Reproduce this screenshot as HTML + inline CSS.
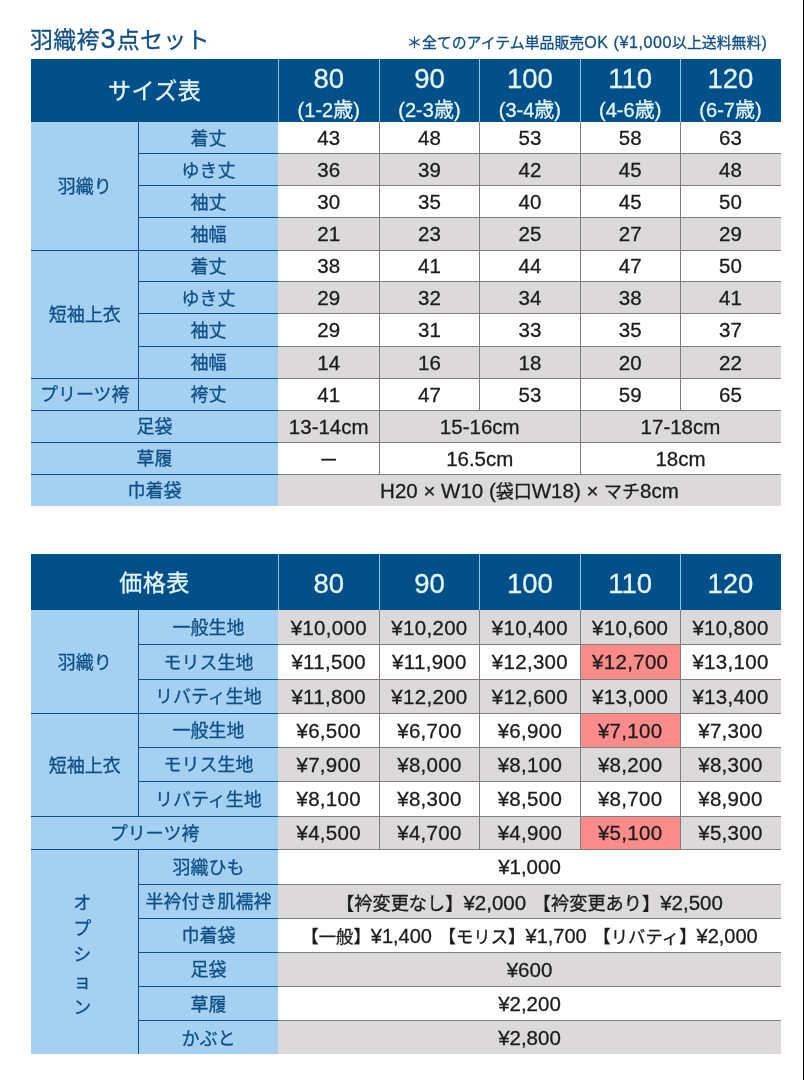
<!DOCTYPE html>
<html lang="ja"><head><meta charset="utf-8"><title>羽織袴3点セット サイズ表・価格表</title>
<style>
html,body{margin:0;padding:0;background:#fff}
body{width:804px;height:1080px;position:relative;overflow:hidden;font-family:"Liberation Sans","Noto Sans CJK JP",sans-serif;color:#1c1c1c}
.c{position:absolute;display:flex;align-items:center;justify-content:center;white-space:nowrap;box-sizing:border-box}
.l{position:absolute}
.title{position:absolute;left:30px;top:22px;font-size:23px;line-height:36px;color:#0f4f85;letter-spacing:0.2px;white-space:nowrap}
.note b{font-weight:normal;font-size:16px;letter-spacing:0.6px}
.title b{font-weight:normal;font-size:27px;line-height:20px;margin:0 1px}
.note{position:absolute;left:407px;top:30px;font-size:14.9px;line-height:26px;color:#0f4f85;white-space:nowrap}
.edge{position:absolute;left:803px;top:0;width:1px;height:1080px;background:#000}
.hd{color:#e4f6ff;-webkit-text-stroke:0.3px #e4f6ff}
.lb,.title,.note{-webkit-text-stroke:0.3px #0f4f85}
.d{-webkit-text-stroke:0.3px #1c1c1c}
.ht{font-size:23px;letter-spacing:0.5px;padding-bottom:2px}
.h2{flex-direction:column}
.h2 .n{font-size:27.5px;line-height:30px;position:relative;top:3px}
.h2 .s{font-size:20px;line-height:28px;position:relative;top:4.5px}
.p .n{top:2px}
.lb{color:#0f4f85;font-size:18px;padding-bottom:2px}
.d{font-size:20.5px;padding-top:1px}
.d i{font-style:normal;font-size:18px}
.o{word-spacing:1px}
.o1 i{font-size:18.2px}
.o2{font-size:20px}
.o2 i{font-size:17.4px}
.k{word-spacing:0px}
.pr{letter-spacing:0.3px}
.vt{flex-direction:column}
.vt{padding:7px 5px 0 0}
.vt span{display:block;line-height:26.3px}
</style></head><body>
<div class="title">羽織袴<b>3</b>点セット</div>
<div class="note">＊全てのアイテム単品販売<b>OK (¥1,000</b>以上送料無料<b>)</b></div>
<div class="c hd ht" style="left:31px;top:59px;width:247.2px;height:62.6px;background:#02508a;">サイズ表</div>
<div class="c hd h2" style="left:278.2px;top:59px;width:101.1px;height:62.6px;background:#02508a;"><span class="n">80</span><span class="s">(1-2歳)</span></div>
<div class="c hd h2" style="left:379.3px;top:59px;width:100.3px;height:62.6px;background:#02508a;"><span class="n">90</span><span class="s">(2-3歳)</span></div>
<div class="c hd h2" style="left:479.6px;top:59px;width:100.6px;height:62.6px;background:#02508a;"><span class="n">100</span><span class="s">(3-4歳)</span></div>
<div class="c hd h2" style="left:580.2px;top:59px;width:100px;height:62.6px;background:#02508a;"><span class="n">110</span><span class="s">(4-6歳)</span></div>
<div class="c hd h2" style="left:680.2px;top:59px;width:100.6px;height:62.6px;background:#02508a;"><span class="n">120</span><span class="s">(6-7歳)</span></div>
<div class="c lb" style="left:31px;top:121.6px;width:107.6px;height:128.4px;background:#a4d1f2;">羽織り</div>
<div class="c lb" style="left:31px;top:250px;width:107.6px;height:128px;background:#a4d1f2;">短袖上衣</div>
<div class="c lb" style="left:31px;top:378px;width:107.6px;height:32.4px;background:#a4d1f2;">プリーツ袴</div>
<div class="c lb" style="left:138.6px;top:121.6px;width:139.6px;height:32.1px;background:#a4d1f2;">着丈</div>
<div class="c d" style="left:278.2px;top:121.6px;width:101.1px;height:32.1px;background:#fff;"><span>43</span></div>
<div class="c d" style="left:379.3px;top:121.6px;width:100.3px;height:32.1px;background:#fff;"><span>48</span></div>
<div class="c d" style="left:479.6px;top:121.6px;width:100.6px;height:32.1px;background:#fff;"><span>53</span></div>
<div class="c d" style="left:580.2px;top:121.6px;width:100px;height:32.1px;background:#fff;"><span>58</span></div>
<div class="c d" style="left:680.2px;top:121.6px;width:100.6px;height:32.1px;background:#fff;"><span>63</span></div>
<div class="c lb" style="left:138.6px;top:153.7px;width:139.6px;height:31.9px;background:#a4d1f2;">ゆき丈</div>
<div class="c d" style="left:278.2px;top:153.7px;width:101.1px;height:31.9px;background:#dbd9da;"><span>36</span></div>
<div class="c d" style="left:379.3px;top:153.7px;width:100.3px;height:31.9px;background:#dbd9da;"><span>39</span></div>
<div class="c d" style="left:479.6px;top:153.7px;width:100.6px;height:31.9px;background:#dbd9da;"><span>42</span></div>
<div class="c d" style="left:580.2px;top:153.7px;width:100px;height:31.9px;background:#dbd9da;"><span>45</span></div>
<div class="c d" style="left:680.2px;top:153.7px;width:100.6px;height:31.9px;background:#dbd9da;"><span>48</span></div>
<div class="c lb" style="left:138.6px;top:185.6px;width:139.6px;height:32.2px;background:#a4d1f2;">袖丈</div>
<div class="c d" style="left:278.2px;top:185.6px;width:101.1px;height:32.2px;background:#fff;"><span>30</span></div>
<div class="c d" style="left:379.3px;top:185.6px;width:100.3px;height:32.2px;background:#fff;"><span>35</span></div>
<div class="c d" style="left:479.6px;top:185.6px;width:100.6px;height:32.2px;background:#fff;"><span>40</span></div>
<div class="c d" style="left:580.2px;top:185.6px;width:100px;height:32.2px;background:#fff;"><span>45</span></div>
<div class="c d" style="left:680.2px;top:185.6px;width:100.6px;height:32.2px;background:#fff;"><span>50</span></div>
<div class="c lb" style="left:138.6px;top:217.8px;width:139.6px;height:32.2px;background:#a4d1f2;">袖幅</div>
<div class="c d" style="left:278.2px;top:217.8px;width:101.1px;height:32.2px;background:#dbd9da;"><span>21</span></div>
<div class="c d" style="left:379.3px;top:217.8px;width:100.3px;height:32.2px;background:#dbd9da;"><span>23</span></div>
<div class="c d" style="left:479.6px;top:217.8px;width:100.6px;height:32.2px;background:#dbd9da;"><span>25</span></div>
<div class="c d" style="left:580.2px;top:217.8px;width:100px;height:32.2px;background:#dbd9da;"><span>27</span></div>
<div class="c d" style="left:680.2px;top:217.8px;width:100.6px;height:32.2px;background:#dbd9da;"><span>29</span></div>
<div class="c lb" style="left:138.6px;top:250px;width:139.6px;height:31.6px;background:#a4d1f2;">着丈</div>
<div class="c d" style="left:278.2px;top:250px;width:101.1px;height:31.6px;background:#fff;"><span>38</span></div>
<div class="c d" style="left:379.3px;top:250px;width:100.3px;height:31.6px;background:#fff;"><span>41</span></div>
<div class="c d" style="left:479.6px;top:250px;width:100.6px;height:31.6px;background:#fff;"><span>44</span></div>
<div class="c d" style="left:580.2px;top:250px;width:100px;height:31.6px;background:#fff;"><span>47</span></div>
<div class="c d" style="left:680.2px;top:250px;width:100.6px;height:31.6px;background:#fff;"><span>50</span></div>
<div class="c lb" style="left:138.6px;top:281.6px;width:139.6px;height:32px;background:#a4d1f2;">ゆき丈</div>
<div class="c d" style="left:278.2px;top:281.6px;width:101.1px;height:32px;background:#dbd9da;"><span>29</span></div>
<div class="c d" style="left:379.3px;top:281.6px;width:100.3px;height:32px;background:#dbd9da;"><span>32</span></div>
<div class="c d" style="left:479.6px;top:281.6px;width:100.6px;height:32px;background:#dbd9da;"><span>34</span></div>
<div class="c d" style="left:580.2px;top:281.6px;width:100px;height:32px;background:#dbd9da;"><span>38</span></div>
<div class="c d" style="left:680.2px;top:281.6px;width:100.6px;height:32px;background:#dbd9da;"><span>41</span></div>
<div class="c lb" style="left:138.6px;top:313.6px;width:139.6px;height:32.4px;background:#a4d1f2;">袖丈</div>
<div class="c d" style="left:278.2px;top:313.6px;width:101.1px;height:32.4px;background:#fff;"><span>29</span></div>
<div class="c d" style="left:379.3px;top:313.6px;width:100.3px;height:32.4px;background:#fff;"><span>31</span></div>
<div class="c d" style="left:479.6px;top:313.6px;width:100.6px;height:32.4px;background:#fff;"><span>33</span></div>
<div class="c d" style="left:580.2px;top:313.6px;width:100px;height:32.4px;background:#fff;"><span>35</span></div>
<div class="c d" style="left:680.2px;top:313.6px;width:100.6px;height:32.4px;background:#fff;"><span>37</span></div>
<div class="c lb" style="left:138.6px;top:346px;width:139.6px;height:32px;background:#a4d1f2;">袖幅</div>
<div class="c d" style="left:278.2px;top:346px;width:101.1px;height:32px;background:#dbd9da;"><span>14</span></div>
<div class="c d" style="left:379.3px;top:346px;width:100.3px;height:32px;background:#dbd9da;"><span>16</span></div>
<div class="c d" style="left:479.6px;top:346px;width:100.6px;height:32px;background:#dbd9da;"><span>18</span></div>
<div class="c d" style="left:580.2px;top:346px;width:100px;height:32px;background:#dbd9da;"><span>20</span></div>
<div class="c d" style="left:680.2px;top:346px;width:100.6px;height:32px;background:#dbd9da;"><span>22</span></div>
<div class="c lb" style="left:138.6px;top:378px;width:139.6px;height:32.4px;background:#a4d1f2;">袴丈</div>
<div class="c d" style="left:278.2px;top:378px;width:101.1px;height:32.4px;background:#fff;"><span>41</span></div>
<div class="c d" style="left:379.3px;top:378px;width:100.3px;height:32.4px;background:#fff;"><span>47</span></div>
<div class="c d" style="left:479.6px;top:378px;width:100.6px;height:32.4px;background:#fff;"><span>53</span></div>
<div class="c d" style="left:580.2px;top:378px;width:100px;height:32.4px;background:#fff;"><span>59</span></div>
<div class="c d" style="left:680.2px;top:378px;width:100.6px;height:32.4px;background:#fff;"><span>65</span></div>
<div class="c lb" style="left:31px;top:410.4px;width:247.2px;height:32px;background:#a4d1f2;">足袋</div>
<div class="c lb" style="left:31px;top:442.4px;width:247.2px;height:31.6px;background:#a4d1f2;">草履</div>
<div class="c lb" style="left:31px;top:474px;width:247.2px;height:31.6px;background:#a4d1f2;">巾着袋</div>
<div class="c d" style="left:278.2px;top:410.4px;width:101.1px;height:32px;background:#dbd9da;"><span>13-14cm</span></div>
<div class="c d" style="left:379.3px;top:410.4px;width:200.9px;height:32px;background:#dbd9da;"><span>15-16cm</span></div>
<div class="c d" style="left:580.2px;top:410.4px;width:200.6px;height:32px;background:#dbd9da;"><span>17-18cm</span></div>
<div class="c d" style="left:278.2px;top:442.4px;width:101.1px;height:31.6px;background:#fff;"><span><i>ー</i></span></div>
<div class="c d" style="left:379.3px;top:442.4px;width:200.9px;height:31.6px;background:#fff;"><span>16.5cm</span></div>
<div class="c d" style="left:580.2px;top:442.4px;width:200.6px;height:31.6px;background:#fff;"><span>18cm</span></div>
<div class="c d k" style="left:278.2px;top:474px;width:502.6px;height:31.6px;background:#dbd9da;"><span>H20 × W10 (<i>袋口</i>W18) × <i>マチ</i>8cm</span></div>
<div class="l" style="left:138.6px;top:153.2px;width:139.6px;height:1px;background:#0f4f85"></div>
<div class="l" style="left:138.6px;top:185.1px;width:139.6px;height:1px;background:#0f4f85"></div>
<div class="l" style="left:138.6px;top:217.3px;width:139.6px;height:1px;background:#0f4f85"></div>
<div class="l" style="left:31px;top:249.5px;width:247.2px;height:1px;background:#0f4f85"></div>
<div class="l" style="left:138.6px;top:281.1px;width:139.6px;height:1px;background:#0f4f85"></div>
<div class="l" style="left:138.6px;top:313.1px;width:139.6px;height:1px;background:#0f4f85"></div>
<div class="l" style="left:138.6px;top:345.5px;width:139.6px;height:1px;background:#0f4f85"></div>
<div class="l" style="left:31px;top:377.5px;width:247.2px;height:1px;background:#0f4f85"></div>
<div class="l" style="left:31px;top:409.9px;width:247.2px;height:1px;background:#0f4f85"></div>
<div class="l" style="left:31px;top:441.9px;width:247.2px;height:1px;background:#0f4f85"></div>
<div class="l" style="left:31px;top:473.5px;width:247.2px;height:1px;background:#0f4f85"></div>
<div class="l" style="left:138.1px;top:121.6px;width:1px;height:288.8px;background:#0f4f85"></div>
<div class="l" style="left:278.2px;top:153.2px;width:502.6px;height:1px;background:#7d7d7d"></div>
<div class="l" style="left:278.2px;top:185.1px;width:502.6px;height:1px;background:#7d7d7d"></div>
<div class="l" style="left:278.2px;top:217.3px;width:502.6px;height:1px;background:#7d7d7d"></div>
<div class="l" style="left:278.2px;top:249.5px;width:502.6px;height:1px;background:#7d7d7d"></div>
<div class="l" style="left:278.2px;top:281.1px;width:502.6px;height:1px;background:#7d7d7d"></div>
<div class="l" style="left:278.2px;top:313.1px;width:502.6px;height:1px;background:#7d7d7d"></div>
<div class="l" style="left:278.2px;top:345.5px;width:502.6px;height:1px;background:#7d7d7d"></div>
<div class="l" style="left:278.2px;top:377.5px;width:502.6px;height:1px;background:#7d7d7d"></div>
<div class="l" style="left:278.2px;top:409.9px;width:502.6px;height:1px;background:#7d7d7d"></div>
<div class="l" style="left:278.2px;top:441.9px;width:502.6px;height:1px;background:#7d7d7d"></div>
<div class="l" style="left:278.2px;top:473.5px;width:502.6px;height:1px;background:#7d7d7d"></div>
<div class="l" style="left:378.8px;top:121.6px;width:1px;height:288.8px;background:#7d7d7d"></div>
<div class="l" style="left:479.1px;top:121.6px;width:1px;height:288.8px;background:#7d7d7d"></div>
<div class="l" style="left:579.7px;top:121.6px;width:1px;height:288.8px;background:#7d7d7d"></div>
<div class="l" style="left:679.7px;top:121.6px;width:1px;height:288.8px;background:#7d7d7d"></div>
<div class="l" style="left:378.8px;top:410.4px;width:1px;height:63.6px;background:#7d7d7d"></div>
<div class="l" style="left:579.7px;top:410.4px;width:1px;height:63.6px;background:#7d7d7d"></div>
<div class="l" style="left:277.7px;top:59px;width:1px;height:62.6px;background:#8fc3ea"></div>
<div class="l" style="left:378.8px;top:59px;width:1px;height:62.6px;background:#8fc3ea"></div>
<div class="l" style="left:479.1px;top:59px;width:1px;height:62.6px;background:#8fc3ea"></div>
<div class="l" style="left:579.7px;top:59px;width:1px;height:62.6px;background:#8fc3ea"></div>
<div class="l" style="left:679.7px;top:59px;width:1px;height:62.6px;background:#8fc3ea"></div>
<div class="c hd ht" style="left:31px;top:554px;width:247.2px;height:56px;background:#02508a;">価格表</div>
<div class="c hd h2 p" style="left:278.2px;top:554px;width:101.1px;height:56px;background:#02508a;"><span class="n">80</span></div>
<div class="c hd h2 p" style="left:379.3px;top:554px;width:100.3px;height:56px;background:#02508a;"><span class="n">90</span></div>
<div class="c hd h2 p" style="left:479.6px;top:554px;width:100.6px;height:56px;background:#02508a;"><span class="n">100</span></div>
<div class="c hd h2 p" style="left:580.2px;top:554px;width:100px;height:56px;background:#02508a;"><span class="n">110</span></div>
<div class="c hd h2 p" style="left:680.2px;top:554px;width:100.6px;height:56px;background:#02508a;"><span class="n">120</span></div>
<div class="c lb" style="left:31px;top:610px;width:107.6px;height:103.3px;background:#a4d1f2;">羽織り</div>
<div class="c lb" style="left:31px;top:713.3px;width:107.6px;height:103px;background:#a4d1f2;">短袖上衣</div>
<div class="c lb" style="left:31px;top:816.3px;width:247.2px;height:33.3px;background:#a4d1f2;">プリーツ袴</div>
<div class="c lb vt" style="left:31px;top:849.6px;width:107.6px;height:204.8px;background:#a4d1f2;"><span>オ</span><span>プ</span><span>シ</span><span>ョ</span><span>ン</span></div>
<div class="c lb" style="left:138.6px;top:610px;width:139.6px;height:34.2px;background:#a4d1f2;">一般生地</div>
<div class="c d pr" style="left:278.2px;top:610px;width:101.1px;height:34.2px;background:#dbd9da;"><span>¥10,000</span></div>
<div class="c d pr" style="left:379.3px;top:610px;width:100.3px;height:34.2px;background:#dbd9da;"><span>¥10,200</span></div>
<div class="c d pr" style="left:479.6px;top:610px;width:100.6px;height:34.2px;background:#dbd9da;"><span>¥10,400</span></div>
<div class="c d pr" style="left:580.2px;top:610px;width:100px;height:34.2px;background:#dbd9da;"><span>¥10,600</span></div>
<div class="c d pr" style="left:680.2px;top:610px;width:100.6px;height:34.2px;background:#dbd9da;"><span>¥10,800</span></div>
<div class="c lb" style="left:138.6px;top:644.2px;width:139.6px;height:35.1px;background:#a4d1f2;">モリス生地</div>
<div class="c d pr" style="left:278.2px;top:644.2px;width:101.1px;height:35.1px;background:#fff;"><span>¥11,500</span></div>
<div class="c d pr" style="left:379.3px;top:644.2px;width:100.3px;height:35.1px;background:#fff;"><span>¥11,900</span></div>
<div class="c d pr" style="left:479.6px;top:644.2px;width:100.6px;height:35.1px;background:#fff;"><span>¥12,300</span></div>
<div class="c d pr" style="left:580.2px;top:644.2px;width:100px;height:35.1px;background:#fc8c89;"><span>¥12,700</span></div>
<div class="c d pr" style="left:680.2px;top:644.2px;width:100.6px;height:35.1px;background:#fff;"><span>¥13,100</span></div>
<div class="c lb" style="left:138.6px;top:679.3px;width:139.6px;height:34px;background:#a4d1f2;">リバティ生地</div>
<div class="c d pr" style="left:278.2px;top:679.3px;width:101.1px;height:34px;background:#dbd9da;"><span>¥11,800</span></div>
<div class="c d pr" style="left:379.3px;top:679.3px;width:100.3px;height:34px;background:#dbd9da;"><span>¥12,200</span></div>
<div class="c d pr" style="left:479.6px;top:679.3px;width:100.6px;height:34px;background:#dbd9da;"><span>¥12,600</span></div>
<div class="c d pr" style="left:580.2px;top:679.3px;width:100px;height:34px;background:#dbd9da;"><span>¥13,000</span></div>
<div class="c d pr" style="left:680.2px;top:679.3px;width:100.6px;height:34px;background:#dbd9da;"><span>¥13,400</span></div>
<div class="c lb" style="left:138.6px;top:713.3px;width:139.6px;height:34.1px;background:#a4d1f2;">一般生地</div>
<div class="c d pr" style="left:278.2px;top:713.3px;width:101.1px;height:34.1px;background:#fff;"><span>¥6,500</span></div>
<div class="c d pr" style="left:379.3px;top:713.3px;width:100.3px;height:34.1px;background:#fff;"><span>¥6,700</span></div>
<div class="c d pr" style="left:479.6px;top:713.3px;width:100.6px;height:34.1px;background:#fff;"><span>¥6,900</span></div>
<div class="c d pr" style="left:580.2px;top:713.3px;width:100px;height:34.1px;background:#fc8c89;"><span>¥7,100</span></div>
<div class="c d pr" style="left:680.2px;top:713.3px;width:100.6px;height:34.1px;background:#fff;"><span>¥7,300</span></div>
<div class="c lb" style="left:138.6px;top:747.4px;width:139.6px;height:34.1px;background:#a4d1f2;">モリス生地</div>
<div class="c d pr" style="left:278.2px;top:747.4px;width:101.1px;height:34.1px;background:#dbd9da;"><span>¥7,900</span></div>
<div class="c d pr" style="left:379.3px;top:747.4px;width:100.3px;height:34.1px;background:#dbd9da;"><span>¥8,000</span></div>
<div class="c d pr" style="left:479.6px;top:747.4px;width:100.6px;height:34.1px;background:#dbd9da;"><span>¥8,100</span></div>
<div class="c d pr" style="left:580.2px;top:747.4px;width:100px;height:34.1px;background:#dbd9da;"><span>¥8,200</span></div>
<div class="c d pr" style="left:680.2px;top:747.4px;width:100.6px;height:34.1px;background:#dbd9da;"><span>¥8,300</span></div>
<div class="c lb" style="left:138.6px;top:781.5px;width:139.6px;height:34.8px;background:#a4d1f2;">リバティ生地</div>
<div class="c d pr" style="left:278.2px;top:781.5px;width:101.1px;height:34.8px;background:#fff;"><span>¥8,100</span></div>
<div class="c d pr" style="left:379.3px;top:781.5px;width:100.3px;height:34.8px;background:#fff;"><span>¥8,300</span></div>
<div class="c d pr" style="left:479.6px;top:781.5px;width:100.6px;height:34.8px;background:#fff;"><span>¥8,500</span></div>
<div class="c d pr" style="left:580.2px;top:781.5px;width:100px;height:34.8px;background:#fff;"><span>¥8,700</span></div>
<div class="c d pr" style="left:680.2px;top:781.5px;width:100.6px;height:34.8px;background:#fff;"><span>¥8,900</span></div>
<div class="c d pr" style="left:278.2px;top:816.3px;width:101.1px;height:33.3px;background:#dbd9da;"><span>¥4,500</span></div>
<div class="c d pr" style="left:379.3px;top:816.3px;width:100.3px;height:33.3px;background:#dbd9da;"><span>¥4,700</span></div>
<div class="c d pr" style="left:479.6px;top:816.3px;width:100.6px;height:33.3px;background:#dbd9da;"><span>¥4,900</span></div>
<div class="c d pr" style="left:580.2px;top:816.3px;width:100px;height:33.3px;background:#fc8c89;"><span>¥5,100</span></div>
<div class="c d pr" style="left:680.2px;top:816.3px;width:100.6px;height:33.3px;background:#dbd9da;"><span>¥5,300</span></div>
<div class="c lb" style="left:138.6px;top:849.6px;width:139.6px;height:34.4px;background:#a4d1f2;">羽織ひも</div>
<div class="c d o o0" style="left:278.2px;top:849.6px;width:502.6px;height:34.4px;background:#fff;"><span>¥1,000</span></div>
<div class="c lb" style="left:138.6px;top:884px;width:139.6px;height:34.1px;background:#a4d1f2;">半衿付き肌襦袢</div>
<div class="c d o o1" style="left:278.2px;top:884px;width:502.6px;height:34.1px;background:#dbd9da;"><span><i>【衿変更なし】</i>¥2,000 <i>【衿変更あり】</i>¥2,500</span></div>
<div class="c lb" style="left:138.6px;top:918.1px;width:139.6px;height:34px;background:#a4d1f2;">巾着袋</div>
<div class="c d o o2" style="left:278.2px;top:918.1px;width:502.6px;height:34px;background:#fff;"><span><i>【一般】</i>¥1,400 <i>【モリス】</i>¥1,700 <i>【リバティ】</i>¥2,000</span></div>
<div class="c lb" style="left:138.6px;top:952.1px;width:139.6px;height:34.6px;background:#a4d1f2;">足袋</div>
<div class="c d o o3" style="left:278.2px;top:952.1px;width:502.6px;height:34.6px;background:#dbd9da;"><span>¥600</span></div>
<div class="c lb" style="left:138.6px;top:986.7px;width:139.6px;height:34px;background:#a4d1f2;">草履</div>
<div class="c d o o4" style="left:278.2px;top:986.7px;width:502.6px;height:34px;background:#fff;"><span>¥2,200</span></div>
<div class="c lb" style="left:138.6px;top:1020.7px;width:139.6px;height:33.7px;background:#a4d1f2;">かぶと</div>
<div class="c d o o5" style="left:278.2px;top:1020.7px;width:502.6px;height:33.7px;background:#dbd9da;"><span>¥2,800</span></div>
<div class="l" style="left:138.6px;top:643.7px;width:139.6px;height:1px;background:#0f4f85"></div>
<div class="l" style="left:138.6px;top:678.8px;width:139.6px;height:1px;background:#0f4f85"></div>
<div class="l" style="left:31px;top:712.8px;width:247.2px;height:1px;background:#0f4f85"></div>
<div class="l" style="left:138.6px;top:746.9px;width:139.6px;height:1px;background:#0f4f85"></div>
<div class="l" style="left:138.6px;top:781px;width:139.6px;height:1px;background:#0f4f85"></div>
<div class="l" style="left:31px;top:815.8px;width:247.2px;height:1px;background:#0f4f85"></div>
<div class="l" style="left:31px;top:849.1px;width:247.2px;height:1px;background:#0f4f85"></div>
<div class="l" style="left:138.6px;top:883.5px;width:139.6px;height:1px;background:#0f4f85"></div>
<div class="l" style="left:138.6px;top:917.6px;width:139.6px;height:1px;background:#0f4f85"></div>
<div class="l" style="left:138.6px;top:951.6px;width:139.6px;height:1px;background:#0f4f85"></div>
<div class="l" style="left:138.6px;top:986.2px;width:139.6px;height:1px;background:#0f4f85"></div>
<div class="l" style="left:138.6px;top:1020.2px;width:139.6px;height:1px;background:#0f4f85"></div>
<div class="l" style="left:138.1px;top:610px;width:1px;height:206.3px;background:#0f4f85"></div>
<div class="l" style="left:138.1px;top:849.6px;width:1px;height:204.8px;background:#0f4f85"></div>
<div class="l" style="left:278.2px;top:643.7px;width:502.6px;height:1px;background:#7d7d7d"></div>
<div class="l" style="left:278.2px;top:678.8px;width:502.6px;height:1px;background:#7d7d7d"></div>
<div class="l" style="left:278.2px;top:712.8px;width:502.6px;height:1px;background:#7d7d7d"></div>
<div class="l" style="left:278.2px;top:746.9px;width:502.6px;height:1px;background:#7d7d7d"></div>
<div class="l" style="left:278.2px;top:781px;width:502.6px;height:1px;background:#7d7d7d"></div>
<div class="l" style="left:278.2px;top:815.8px;width:502.6px;height:1px;background:#7d7d7d"></div>
<div class="l" style="left:278.2px;top:849.1px;width:502.6px;height:1px;background:#7d7d7d"></div>
<div class="l" style="left:278.2px;top:883.5px;width:502.6px;height:1px;background:#7d7d7d"></div>
<div class="l" style="left:278.2px;top:917.6px;width:502.6px;height:1px;background:#7d7d7d"></div>
<div class="l" style="left:278.2px;top:951.6px;width:502.6px;height:1px;background:#7d7d7d"></div>
<div class="l" style="left:278.2px;top:986.2px;width:502.6px;height:1px;background:#7d7d7d"></div>
<div class="l" style="left:278.2px;top:1020.2px;width:502.6px;height:1px;background:#7d7d7d"></div>
<div class="l" style="left:378.8px;top:610px;width:1px;height:239.6px;background:#7d7d7d"></div>
<div class="l" style="left:479.1px;top:610px;width:1px;height:239.6px;background:#7d7d7d"></div>
<div class="l" style="left:579.7px;top:610px;width:1px;height:239.6px;background:#7d7d7d"></div>
<div class="l" style="left:679.7px;top:610px;width:1px;height:239.6px;background:#7d7d7d"></div>
<div class="l" style="left:277.7px;top:554px;width:1px;height:56px;background:#8fc3ea"></div>
<div class="l" style="left:378.8px;top:554px;width:1px;height:56px;background:#8fc3ea"></div>
<div class="l" style="left:479.1px;top:554px;width:1px;height:56px;background:#8fc3ea"></div>
<div class="l" style="left:579.7px;top:554px;width:1px;height:56px;background:#8fc3ea"></div>
<div class="l" style="left:679.7px;top:554px;width:1px;height:56px;background:#8fc3ea"></div>
<div class="edge"></div>
</body></html>
